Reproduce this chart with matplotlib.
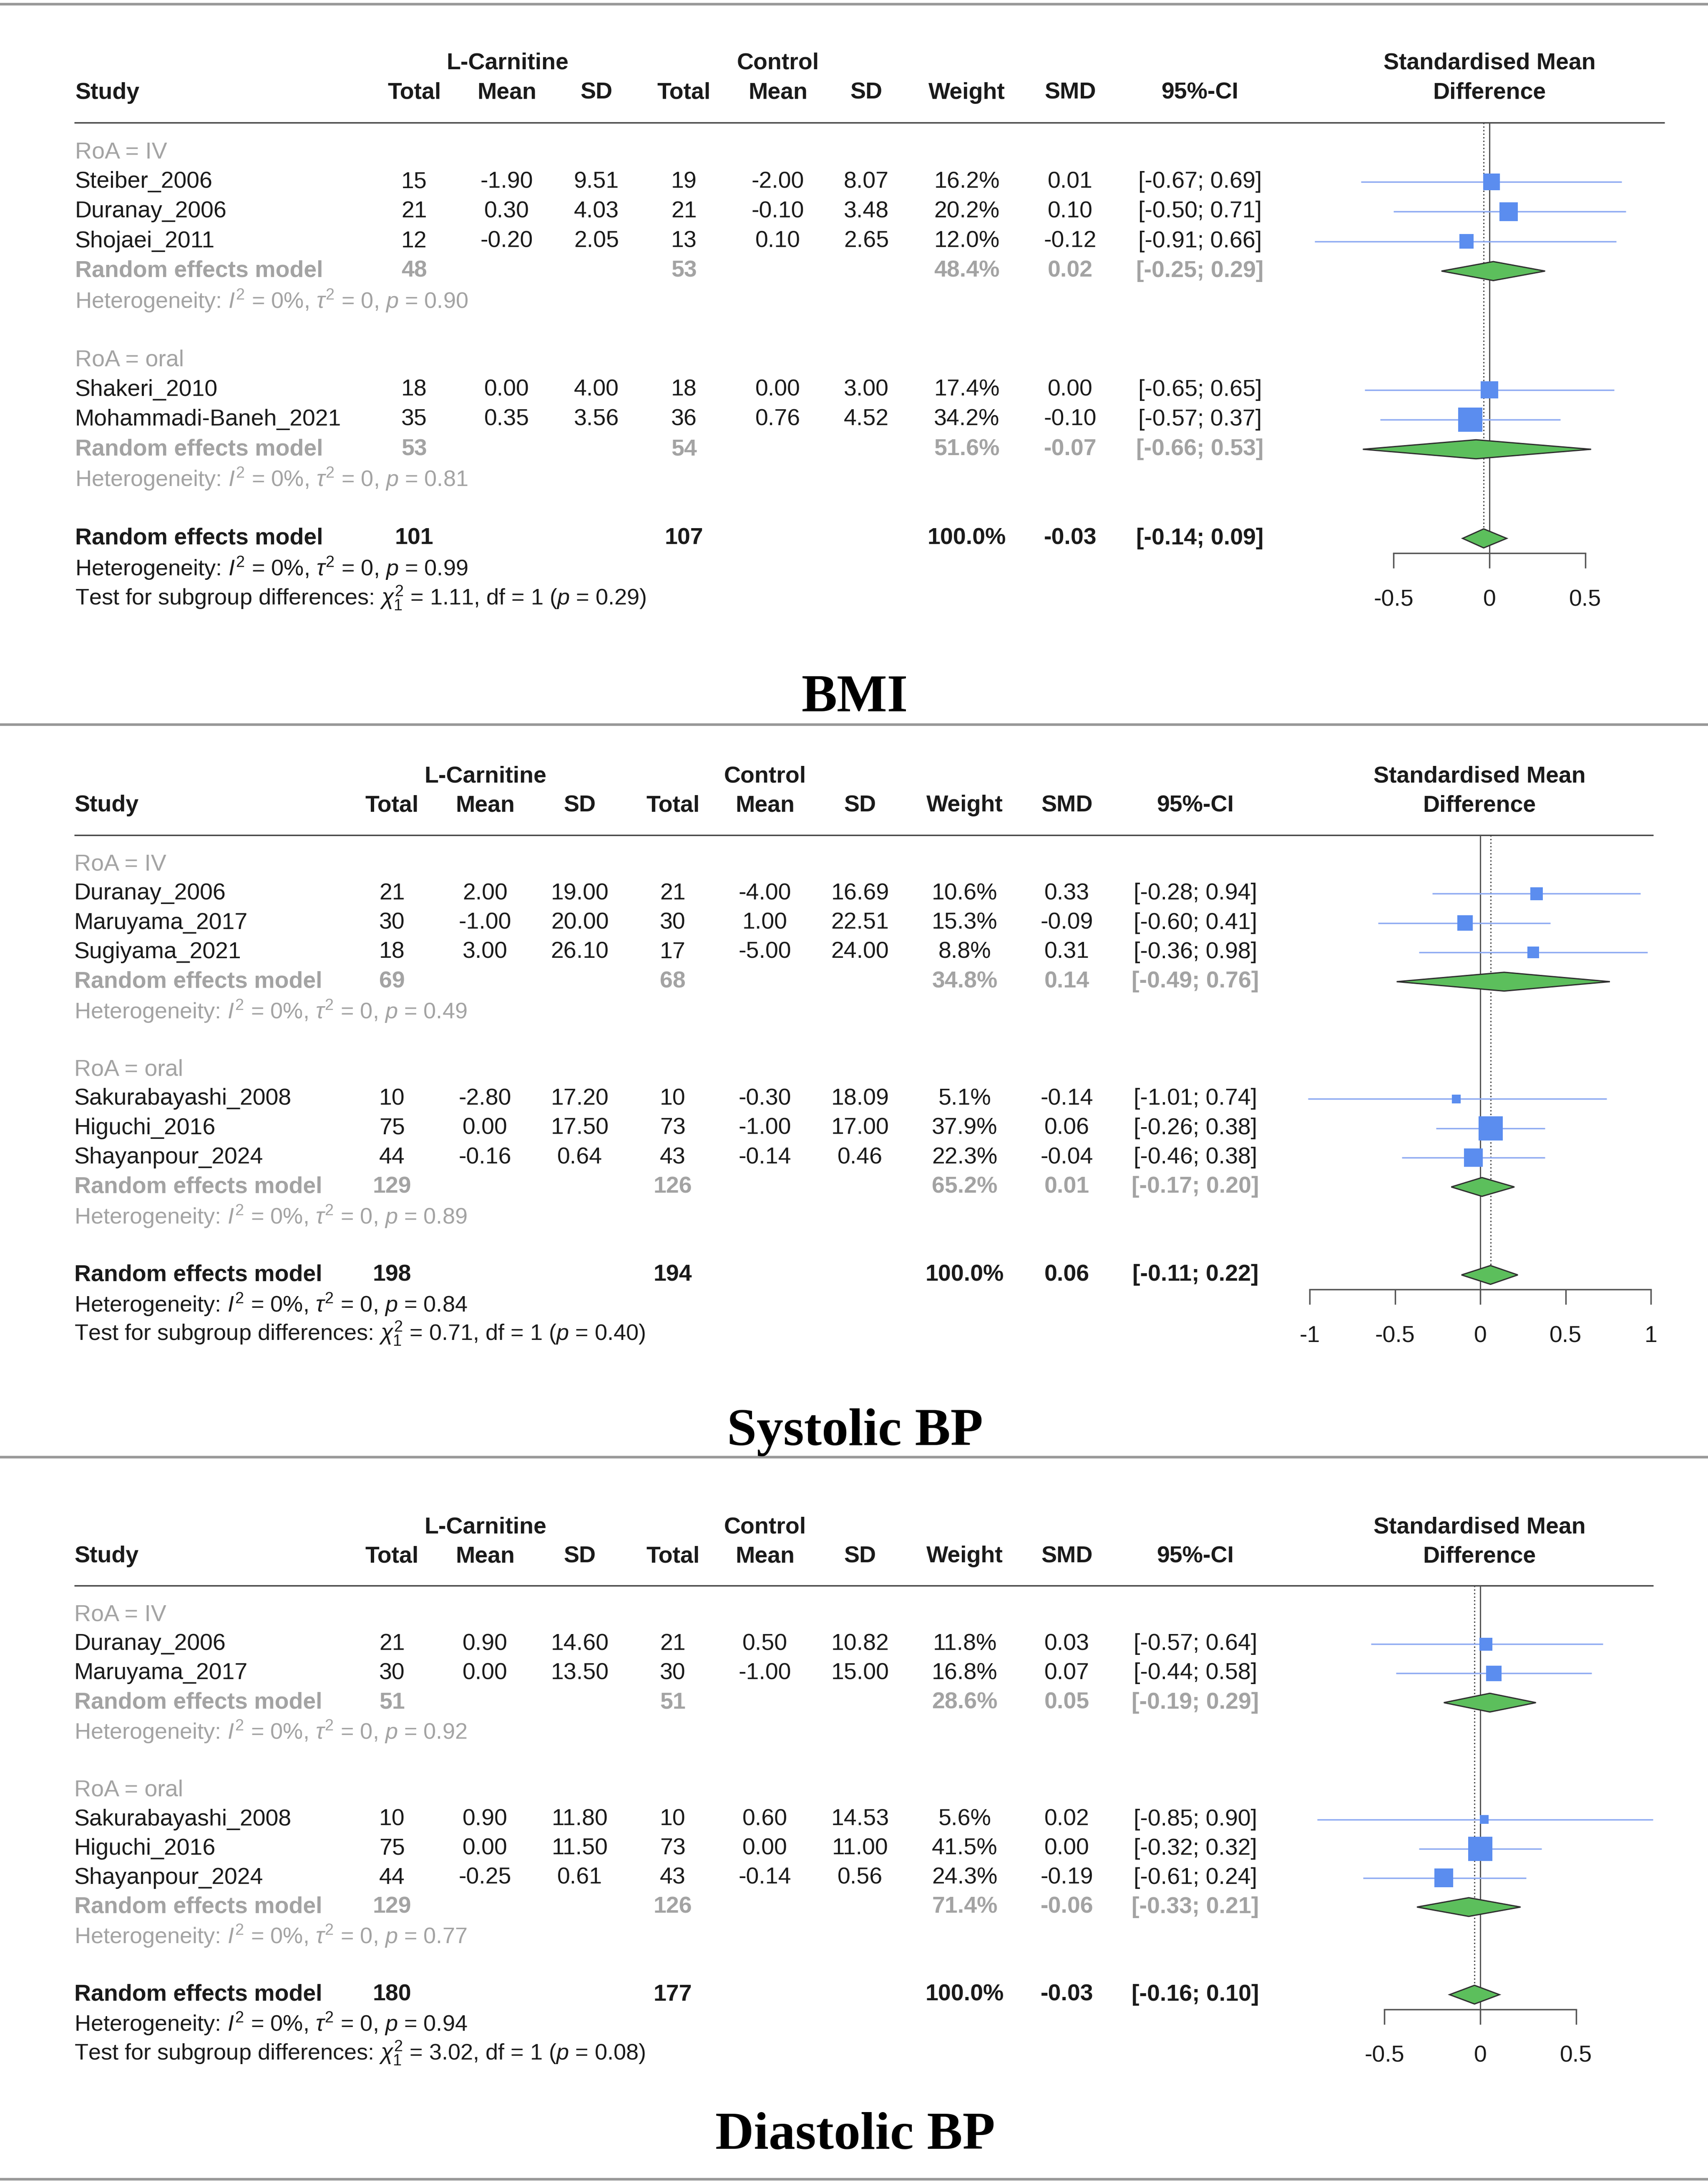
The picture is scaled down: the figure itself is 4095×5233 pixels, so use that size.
import numpy as np
import matplotlib.pyplot as plt
from matplotlib.lines import Line2D

plt.rcParams['font.family'] = ['Liberation Sans', 'DejaVu Sans']
plt.rcParams['mathtext.fontset'] = 'custom'
plt.rcParams['mathtext.rm'] = 'Liberation Sans'
plt.rcParams['mathtext.it'] = 'Liberation Sans:italic'
plt.rcParams['mathtext.bf'] = 'Liberation Sans:bold'

# BMI
bmi_study = ['Steiber_2006', 'Duranay_2006', 'Shojaei_2011', 'Shakeri_2010', 'Mohammadi-Baneh_2021']
bmi_group = ['IV', 'IV', 'IV', 'oral', 'oral']
bmi_n_e = [15, 21, 12, 18, 35]
bmi_mean_e = [-1.90, 0.30, -0.20, 0.00, 0.35]
bmi_sd_e = [9.51, 4.03, 2.05, 4.00, 3.56]
bmi_n_c = [19, 21, 13, 18, 36]
bmi_mean_c = [-2.00, -0.10, 0.10, 0.00, 0.76]
bmi_sd_c = [8.07, 3.48, 2.65, 3.00, 4.52]
bmi_w = [16.2, 20.2, 12.0, 17.4, 34.2]
bmi_smd = [0.01, 0.10, -0.12, 0.00, -0.10]
bmi_lo = [-0.67, -0.50, -0.91, -0.65, -0.57]
bmi_hi = [0.69, 0.71, 0.66, 0.65, 0.37]
bmi_sub_n_e = [48, 53]
bmi_sub_n_c = [53, 54]
bmi_sub_w = [48.4, 51.6]
bmi_sub_smd = [0.02, -0.07]
bmi_sub_lo = [-0.25, -0.66]
bmi_sub_hi = [0.29, 0.53]
bmi_sub_p = ['0.90', '0.81']
bmi_all = [101, 107, 100.0, -0.03, -0.14, 0.09]
bmi_all_p = '0.99'
bmi_test = ['1.11', '0.29']
bmi_ticks = [-0.5, 0, 0.5]

# Systolic BP
sbp_study = ['Duranay_2006', 'Maruyama_2017', 'Sugiyama_2021', 'Sakurabayashi_2008', 'Higuchi_2016', 'Shayanpour_2024']
sbp_group = ['IV', 'IV', 'IV', 'oral', 'oral', 'oral']
sbp_n_e = [21, 30, 18, 10, 75, 44]
sbp_mean_e = [2.00, -1.00, 3.00, -2.80, 0.00, -0.16]
sbp_sd_e = [19.00, 20.00, 26.10, 17.20, 17.50, 0.64]
sbp_n_c = [21, 30, 17, 10, 73, 43]
sbp_mean_c = [-4.00, 1.00, -5.00, -0.30, -1.00, -0.14]
sbp_sd_c = [16.69, 22.51, 24.00, 18.09, 17.00, 0.46]
sbp_w = [10.6, 15.3, 8.8, 5.1, 37.9, 22.3]
sbp_smd = [0.33, -0.09, 0.31, -0.14, 0.06, -0.04]
sbp_lo = [-0.28, -0.60, -0.36, -1.01, -0.26, -0.46]
sbp_hi = [0.94, 0.41, 0.98, 0.74, 0.38, 0.38]
sbp_sub_n_e = [69, 129]
sbp_sub_n_c = [68, 126]
sbp_sub_w = [34.8, 65.2]
sbp_sub_smd = [0.14, 0.01]
sbp_sub_lo = [-0.49, -0.17]
sbp_sub_hi = [0.76, 0.20]
sbp_sub_p = ['0.49', '0.89']
sbp_all = [198, 194, 100.0, 0.06, -0.11, 0.22]
sbp_all_p = '0.84'
sbp_test = ['0.71', '0.40']
sbp_ticks = [-1, -0.5, 0, 0.5, 1]

# Diastolic BP
dbp_study = ['Duranay_2006', 'Maruyama_2017', 'Sakurabayashi_2008', 'Higuchi_2016', 'Shayanpour_2024']
dbp_group = ['IV', 'IV', 'oral', 'oral', 'oral']
dbp_n_e = [21, 30, 10, 75, 44]
dbp_mean_e = [0.90, 0.00, 0.90, 0.00, -0.25]
dbp_sd_e = [14.60, 13.50, 11.80, 11.50, 0.61]
dbp_n_c = [21, 30, 10, 73, 43]
dbp_mean_c = [0.50, -1.00, 0.60, 0.00, -0.14]
dbp_sd_c = [10.82, 15.00, 14.53, 11.00, 0.56]
dbp_w = [11.8, 16.8, 5.6, 41.5, 24.3]
dbp_smd = [0.03, 0.07, 0.02, 0.00, -0.19]
dbp_lo = [-0.57, -0.44, -0.85, -0.32, -0.61]
dbp_hi = [0.64, 0.58, 0.90, 0.32, 0.24]
dbp_sub_n_e = [51, 129]
dbp_sub_n_c = [51, 126]
dbp_sub_w = [28.6, 71.4]
dbp_sub_smd = [0.05, -0.06]
dbp_sub_lo = [-0.19, -0.33]
dbp_sub_hi = [0.29, 0.21]
dbp_sub_p = ['0.92', '0.77']
dbp_all = [180, 177, 100.0, -0.03, -0.16, 0.10]
dbp_all_p = '0.94'
dbp_test = ['3.02', '0.08']
dbp_ticks = [-0.5, 0, 0.5]

groups = ['IV', 'oral']

W, H = 4095, 5233
FS = 40
FS_NOTE = 39
BLACK = '#1a1a1a'
GRAY = '#a3a3a3'
SQ = '#5b8def'
CI = '#8eaaf2'
DFILL = '#5cbf5c'
DEDGE = '#2f2f2f'

fig = plt.figure(figsize=(W / 100, H / 100), dpi=100)


def box(x0, y0, x1, y1):
    return [x0 / W, 1 - y1 / H, (x1 - x0) / W, (y1 - y0) / H]


def f2(v):
    return f'{v:.2f}'


def ci(lo, hi):
    return f'[{lo:.2f}; {hi:.2f}]'


def panel(d, top, bottom, y0, dy, cols, zero_px, unit_px, line_end):
    lim = ((bottom - y0) / dy, (top - y0) / dy)
    ax = fig.add_axes(box(0, top, W, bottom))
    ax.set_xlim(0, W)
    ax.set_ylim(*lim)
    ax.axis('off')
    fx = fig.add_axes(box(3100, top, 4030, bottom))
    fx.set_xlim((3100 - zero_px) / unit_px, (4030 - zero_px) / unit_px)
    fx.set_ylim(*lim)
    fx.patch.set_alpha(0)

    def put(key, r, s, color=BLACK, weight='normal', size=FS):
        ha = 'left' if key == 'study' else 'center'
        ax.text(cols[key], r, s, ha=ha, va='center', fontsize=size, color=color, fontweight=weight)

    # header
    put('lc', -3, 'L-Carnitine', weight='bold')
    put('ctrl', -3, 'Control', weight='bold')
    put('smd_head', -3, 'Standardised Mean', weight='bold')
    put('smd_head', -2, 'Difference', weight='bold')
    put('study', -2, 'Study', weight='bold')
    for key, lab in [('n_e', 'Total'), ('m_e', 'Mean'), ('s_e', 'SD'), ('n_c', 'Total'),
                     ('m_c', 'Mean'), ('s_c', 'SD'), ('w', 'Weight'), ('smd', 'SMD'), ('ci', '95%-CI')]:
        put(key, -2, lab, weight='bold')
    ax.hlines(-1, 178, line_end, color='#444444', lw=2.5)

    wmax = max(d['w'])
    r = 0
    st_rows, diamonds = [], []
    for gi, g in enumerate(groups):
        put('study', r, f'RoA = {g}', color=GRAY)
        r += 1
        for i in range(len(d['study'])):
            if d['group'][i] != g:
                continue
            put('study', r, d['study'][i])
            put('n_e', r, str(d['n_e'][i]))
            put('m_e', r, f2(d['mean_e'][i]))
            put('s_e', r, f2(d['sd_e'][i]))
            put('n_c', r, str(d['n_c'][i]))
            put('m_c', r, f2(d['mean_c'][i]))
            put('s_c', r, f2(d['sd_c'][i]))
            put('w', r, f'{d["w"][i]:.1f}%')
            put('smd', r, f2(d['smd'][i]))
            put('ci', r, ci(d['lo'][i], d['hi'][i]))
            st_rows.append((r, i))
            r += 1
        put('study', r, 'Random effects model', color=GRAY, weight='bold')
        put('n_e', r, str(d['sub_n_e'][gi]), color=GRAY, weight='bold')
        put('n_c', r, str(d['sub_n_c'][gi]), color=GRAY, weight='bold')
        put('w', r, f'{d["sub_w"][gi]:.1f}%', color=GRAY, weight='bold')
        put('smd', r, f2(d['sub_smd'][gi]), color=GRAY, weight='bold')
        put('ci', r, ci(d['sub_lo'][gi], d['sub_hi'][gi]), color=GRAY, weight='bold')
        diamonds.append((r, d['sub_lo'][gi], d['sub_smd'][gi], d['sub_hi'][gi]))
        r += 1
        put('study', r, r'Heterogeneity: $I^2$ = 0%, $\tau^2$ = 0, $p$ = ' + d['sub_p'][gi],
            color=GRAY, size=FS_NOTE)
        r += 2
    n_e, n_c, w_all, est, lo, hi = d['all']
    put('study', r, 'Random effects model', weight='bold')
    put('n_e', r, str(n_e), weight='bold')
    put('n_c', r, str(n_c), weight='bold')
    put('w', r, f'{w_all:.1f}%', weight='bold')
    put('smd', r, f2(est), weight='bold')
    put('ci', r, ci(lo, hi), weight='bold')
    diamonds.append((r, lo, est, hi))
    put('study', r + 1, r'Heterogeneity: $I^2$ = 0%, $\tau^2$ = 0, $p$ = ' + d['all_p'], size=FS_NOTE)
    put('study', r + 2, r'Test for subgroup differences: $\chi^2_1$ = ' + d['test'][0]
        + r', df = 1 ($p$ = ' + d['test'][1] + ')', size=FS_NOTE)

    axis_row = r + 0.5
    h = 0.32
    # reference lines
    fx.vlines(0, -1, axis_row, color='#555555', lw=2.2, zorder=1)
    fx.vlines(est, -1, r - h, color='#444444', lw=2.2, linestyles=(0, (1, 1.8)), zorder=1)
    # studies
    rows = [a for a, b in st_rows]
    idx = [b for a, b in st_rows]
    fx.hlines(rows, [d['lo'][i] for i in idx], [d['hi'][i] for i in idx], color=CI, lw=2.5, zorder=2)
    side = [58 * np.sqrt(d['w'][i] / wmax) * 0.72 for i in idx]
    fx.scatter([d['smd'][i] for i in idx], rows, s=np.array(side) ** 2, marker='s',
               color=SQ, linewidths=0, zorder=3)
    for rr, l, e, u in diamonds:
        fx.fill([l, e, u, e], [rr, rr - h, rr, rr + h], facecolor=DFILL, edgecolor=DEDGE, lw=2.2, zorder=4)
    # axis
    for s in ['top', 'left', 'right']:
        fx.spines[s].set_visible(False)
    fx.spines['bottom'].set_position(('data', axis_row))
    fx.spines['bottom'].set_bounds(d['ticks'][0], d['ticks'][-1])
    fx.spines['bottom'].set_color('#555555')
    fx.spines['bottom'].set_linewidth(2.5)
    fx.set_yticks([])
    fx.set_xticks(d['ticks'])
    fx.set_xticklabels([f'{t:g}' for t in d['ticks']])
    fx.tick_params(axis='x', direction='out', length=26, width=2.5, color='#555555',
                   labelsize=FS, pad=36, labelcolor=BLACK)


def pack(p):
    g = globals()
    keys = ['study', 'group', 'n_e', 'mean_e', 'sd_e', 'n_c', 'mean_c', 'sd_c', 'w', 'smd', 'lo', 'hi',
            'sub_n_e', 'sub_n_c', 'sub_w', 'sub_smd', 'sub_lo', 'sub_hi', 'sub_p', 'all', 'all_p', 'test', 'ticks']
    return {k: g[p + '_' + k] for k in keys}


cols_a = dict(study=180, n_e=993, m_e=1215, s_e=1430, n_c=1640, m_c=1865, s_c=2077,
              w=2318, smd=2566, ci=2877, lc=1217, ctrl=1865, smd_head=3571)
cols_b = dict(study=178, n_e=940, m_e=1163, s_e=1390, n_c=1613, m_c=1834, s_c=2062,
              w=2313, smd=2558, ci=2866, lc=1164, ctrl=1834, smd_head=3547)

panel(pack('bmi'), 10, 1737, 365, 71.2, cols_a, 3571, 460, 3991)
panel(pack('sbp'), 1737, 3493, 2072, 70.3, cols_b, 3549, 409, 3964)
panel(pack('dbp'), 3493, 5224, 3871.5, 70.0, cols_b, 3549, 460, 3964)

for y in [10, 1737, 3493, 5224]:
    fig.add_artist(Line2D([0, 1], [1 - y / H] * 2, transform=fig.transFigure, color='#999999', lw=4.5))

for t, y in [('BMI', 1705), ('Systolic BP', 3464), ('Diastolic BP', 5150)]:
    fig.text(2050 / W, 1 - y / H, t, ha='center', va='baseline', fontsize=92,
             fontfamily=['Liberation Serif', 'DejaVu Serif'], fontweight='bold', color='black')

fig.savefig('out.png', dpi=100, facecolor='white')
